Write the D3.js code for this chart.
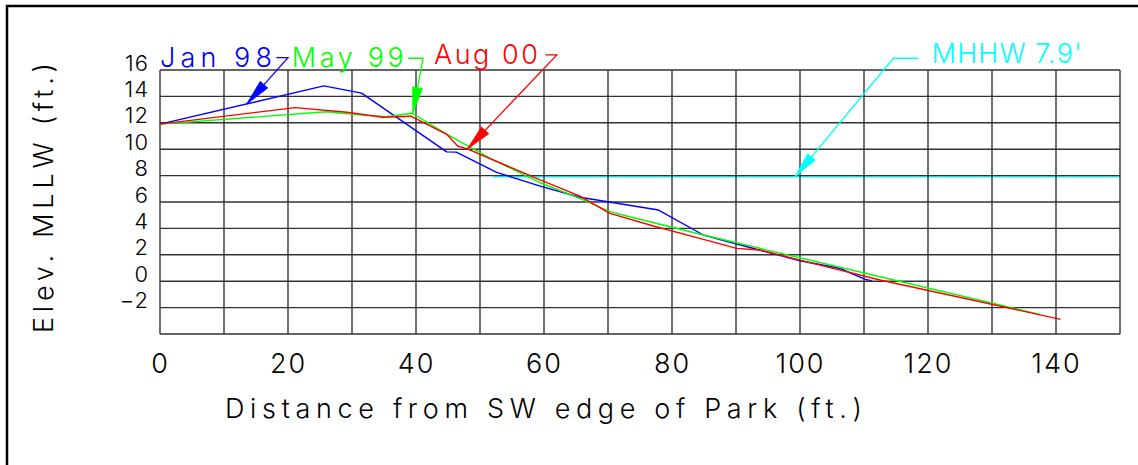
<!DOCTYPE html>
<html>
<head>
<meta charset="utf-8">
<script src="https://cdn.jsdelivr.net/npm/d3@7"></script>
<style>
  html, body { margin: 0; padding: 0; background: #fff; }
  svg { display: block; }
  text { font-family: "Inter", "DejaVu Sans", sans-serif; font-weight: 300; }
</style>
</head>
<body>
<svg id="chart" width="1138" height="465"></svg>
<script>
// ---- Data (distance ft, elevation ft MLLW) ----
const jan98 = [[0,11.9],[25.6,14.8],[31.5,14.25],[44.8,9.8],[46.3,9.78],[52.6,8.25],[59.4,7.2],[65.6,6.36],[77.9,5.39],[84.9,3.5],[90.1,2.82],[100,1.55],[106.2,0.98],[110.2,0.14],[111.2,0.04]];
const may99 = [[0,11.9],[26,12.84],[30.2,12.64],[35.4,12.46],[39.4,12.72],[44.8,11.15],[51.6,9.31],[59.4,7.46],[65.6,6.28],[70.3,5.27],[72.9,4.94],[84.9,3.5],[112.5,0.34],[137.5,-2.52]];
const aug00 = [[0,11.9],[21.1,13.15],[29.2,12.8],[34.8,12.42],[39.2,12.5],[44.8,11.13],[46.5,10.24],[48.1,10.0],[59.4,7.67],[65.6,6.45],[70.3,5.14],[77.1,4.18],[84.9,3.17],[90.1,2.49],[93.75,2.36],[100,1.6],[112.5,0.09],[140.7,-2.89]];
const mhhw = 7.9;
const mhhwRange = [52, 150];

const seriesNames = ["Jan 98", "May 99", "Aug 00"];
const seriesColors = ["#0000ff", "#00ff00", "#ff0000"];
const seriesData = [jan98, may99, aug00];

// leaders: label, label anchor (d, v), elbow start (d), elbow (d, v), arrow tip (d, v)
const leaderLabels = ["Jan 98", "May 99", "Aug 00", "MHHW 7.9'"];
const leaderColors = ["#0000ff", "#00ff00", "#ff0000", "#00ffff"];
const leaderTextPos = [[0,16.23],[20.6,16.23],[42.8,16.45],[120.6,16.53]];
const leaderTextLen = [112, 112, 104, 150];
const leaderElbowStart = [18.2, 38.8, 60.2, 118.5];
const leaderElbow = [[20.0,16.93],[41.1,16.89],[62.0,17.14],[114.6,16.89]];
const leaderTip = [[13.55,13.42],[39.5,12.72],[48.0,10.0],[99.2,7.9]];

const xTicks = [0,20,40,60,80,100,120,140];
const yTicks = [16,14,12,10,8,6,4,2,0,-2];
const xGrid = d3.range(0, 151, 10);
const yGrid = d3.range(-4, 17, 2);
const xTitle = "Distance from SW edge of Park (ft.)";
const yTitle = "Elev. MLLW (ft.)";

// ---- Drawing ----
const svg = d3.select("#chart");
const x = d3.scaleLinear().domain([0, 150]).range([160, 1120]);
const y = d3.scaleLinear().domain([-4, 16]).range([334, 70]);

// outer frame
svg.append("rect").attr("x", 7).attr("y", 6).attr("width", 1150).attr("height", 480)
  .attr("fill", "none").attr("stroke", "#000").attr("stroke-width", 2.5);

// MHHW line (under the grid)
svg.append("line").attr("x1", x(mhhwRange[0])).attr("x2", x(mhhwRange[1]))
  .attr("y1", y(mhhw)).attr("y2", y(mhhw)).attr("stroke", "#00ffff").attr("stroke-width", 1.3);

// grid
const grid = svg.append("g").attr("stroke", "#333").attr("stroke-width", 1.4);
grid.selectAll("line.h").data(yGrid).join("line").attr("class", "h")
  .attr("x1", x(0)).attr("x2", x(150)).attr("y1", d => y(d)).attr("y2", d => y(d));
grid.selectAll("line.v").data(xGrid).join("line").attr("class", "v")
  .attr("x1", d => x(d)).attr("x2", d => x(d)).attr("y1", y(-4)).attr("y2", y(16));

// axes (labels only)
const xAxis = d3.axisBottom(x).tickValues(xTicks).tickSize(0).tickFormat(d3.format("d"));
const gx = svg.append("g").attr("transform", `translate(0,${y(-4)})`).call(xAxis);
gx.select(".domain").remove();
gx.attr("font-family", null);
gx.selectAll("text").attr("y", 39).attr("dy", 0).attr("fill", "#000")
  .attr("font-size", 27).attr("letter-spacing", 2);

const yAxis = d3.axisLeft(y).tickValues(yTicks).tickSize(0).tickPadding(11)
  .tickFormat(d => d < 0 ? "\u2212" + Math.abs(d) : String(d));
const gy = svg.append("g").attr("transform", `translate(${x(0)},0)`).call(yAxis);
gy.select(".domain").remove();
gy.attr("font-family", null);
gy.selectAll("text").attr("dy", 0).attr("fill", "#000")
  .attr("font-size", 22).attr("letter-spacing", 1);

// axis titles
svg.append("text").attr("x", 225).attr("y", 418).attr("font-size", 27)
  .attr("textLength", 637).attr("lengthAdjust", "spacing").attr("fill", "#000").text(xTitle);
svg.append("text").attr("transform", "translate(53,333) rotate(-90)").attr("font-size", 27)
  .attr("textLength", 270).attr("lengthAdjust", "spacing").attr("fill", "#000").text(yTitle);

// profile lines
const line = d3.line().x(d => x(d[0])).y(d => y(d[1]));
svg.selectAll("path.series").data(seriesData).join("path").attr("class", "series")
  .attr("d", line).attr("fill", "none")
  .attr("stroke", (d, i) => seriesColors[i]).attr("stroke-width", 1.4)
  .attr("stroke-linejoin", "round");

// leaders + labels
leaderLabels.forEach((lab, i) => {
  const c = leaderColors[i];
  const tip = [x(leaderTip[i][0]), y(leaderTip[i][1])];
  const elb = [x(leaderElbow[i][0]), y(leaderElbow[i][1])];
  const st = [x(leaderElbowStart[i]), y(leaderElbow[i][1])];
  svg.append("polyline").attr("points", [st, elb, tip].map(p => p.join(",")).join(" "))
    .attr("fill", "none").attr("stroke", c).attr("stroke-width", 1.3);
  const dx = elb[0] - tip[0], dy = elb[1] - tip[1];
  const L = Math.hypot(dx, dy), ux = dx / L, uy = dy / L;
  const len = 26, hw = 5;
  const bx = tip[0] + ux * len, by = tip[1] + uy * len;
  svg.append("polygon").attr("points", [
    tip, [bx - uy * hw, by + ux * hw], [bx + uy * hw, by - ux * hw]
  ].map(p => p.join(",")).join(" ")).attr("fill", c).attr("stroke", c).attr("stroke-width", 0.8);
  svg.append("text").attr("x", x(leaderTextPos[i][0])).attr("y", y(leaderTextPos[i][1]))
    .attr("font-size", 27).attr("fill", c)
    .attr("textLength", leaderTextLen[i]).attr("lengthAdjust", "spacing").text(lab);
});
</script>
</body>
</html>
